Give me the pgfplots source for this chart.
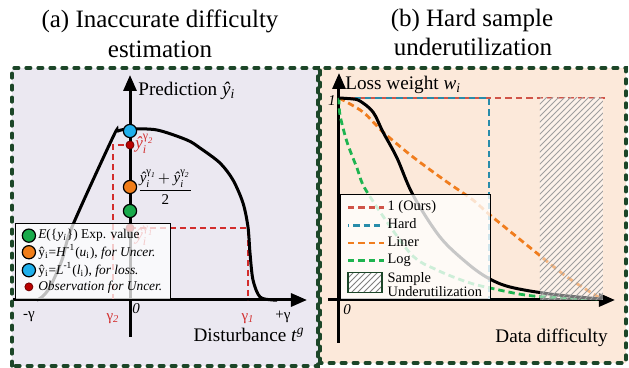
\documentclass[border=0pt]{standalone}
\usepackage{fontspec}
\setmainfont{Liberation Serif}
\usepackage{amsmath}
\usepackage{pgfplots}
\pgfplotsset{compat=1.18}
\usetikzlibrary{arrows.meta,patterns}
\definecolor{bgL}{RGB}{235,232,241}
\definecolor{bgR}{RGB}{252,233,218}
\definecolor{dkg}{RGB}{28,70,40}
\definecolor{cred}{RGB}{208,84,72}
\definecolor{cblue}{RGB}{40,140,170}
\definecolor{corange}{RGB}{240,125,30}
\definecolor{cgreen}{RGB}{30,180,80}
\definecolor{mgreen}{RGB}{25,170,75}
\definecolor{morange}{RGB}{240,125,25}
\definecolor{mblue}{RGB}{30,175,235}
\definecolor{mred}{RGB}{185,0,0}
\definecolor{lred}{RGB}{210,45,45}
\newcommand{\yh}{\text{\itshape ŷ}}
\begin{document}
\begin{tikzpicture}
\useasboundingbox (0,0) rectangle (314.5pt,184pt);
\fill[bgL] (6pt,1pt) rectangle (159pt,150pt);
\fill[bgR] (160pt,2.5pt) rectangle (313pt,150pt);
\node[font=\rmfamily\fontsize{12.5}{15}\selectfont, anchor=base] at (80pt,170pt) {(a) Inaccurate difficulty};
\node[font=\rmfamily\fontsize{12.5}{15}\selectfont, anchor=base] at (80pt,155pt) {estimation};
\node[font=\rmfamily\fontsize{12.5}{15}\selectfont, anchor=base] at (236pt,170.5pt) {(b) Hard sample};
\node[font=\rmfamily\fontsize{12.5}{15}\selectfont, anchor=base] at (236.5pt,156pt) {underutilization};
% ---------------- left axis
\begin{axis}[x=0.5pt, y=0.5pt, at={(65pt,34pt)}, anchor=origin,
  xmin=-117, xmax=177, ymin=-37, ymax=225,
  axis lines=middle, xtick=\empty, ytick=\empty, clip=false,
  axis line style={line width=1.5pt, -{Triangle[length=8pt,width=6.5pt]}},
  legend style={at={(axis cs:-115,0)}, anchor=south west, fill=white, fill opacity=0.75,
    draw opacity=1, text opacity=1, draw=black, line width=0.7pt,
    font=\fontsize{6.7}{7.4}\selectfont, row sep=-0.8pt,
    nodes={inner sep=1.1pt}},
  legend cell align=left]
\addplot[lred, line width=0.6pt, dash pattern=on 3pt off 2pt, forget plot] coordinates {(-17,0) (-17,155) (0,155)};
\addplot[lred, line width=0.6pt, dash pattern=on 3pt off 2pt, forget plot] coordinates {(0,72) (118,72) (118,0)};
\addplot[black, line width=1.5pt, smooth, tension=0.5, forget plot] coordinates {
 (-93,0) (-88,3) (-80,13) (-68,40) (-58,73) (-17,163) (-12,169) (0,171) (27,170)
 (57,160) (70,152) (90,137) (103,120) (113,97) (118,73) (120,47) (123,20) (130,3) (143,0) (147,0)};
\addplot[only marks, mark=*, mark size=2pt, mark options={fill=mred, draw=mred!60!black, line width=0.4pt}, forget plot] coordinates {(0,72) (0,155)};
\addplot[only marks, mark=*, mark size=3.3pt, mark options={fill=mgreen, draw=black, line width=0.6pt}, forget plot] coordinates {(0,89)};
\addplot[only marks, mark=*, mark size=3.3pt, mark options={fill=morange, draw=black, line width=0.6pt}, forget plot] coordinates {(0,113)};
\addplot[only marks, mark=*, mark size=3.3pt, mark options={fill=mblue, draw=black, line width=0.6pt}, forget plot] coordinates {(0,169)};
\node[anchor=west, text=lred, font=\fontsize{8.5}{9}\selectfont, inner sep=0pt] at (axis cs:5,156) {$\yh_{\text{\itshape i}}^{\text{γ}_{\text{\itshape 2}}}$};
\node[anchor=west, text=lred, font=\fontsize{8.5}{9}\selectfont, inner sep=0pt] at (axis cs:5,64) {$\yh_{\text{\itshape i}}^{\text{γ}_{\text{\itshape 1}}}$};
\node[anchor=west, font=\fontsize{7.5}{9}\selectfont, inner sep=0pt] at (axis cs:7,113) {$\dfrac{\yh_{\text{\itshape i}}^{\text{γ}_{\text{\itshape 1}}}\!+\yh_{\text{\itshape i}}^{\text{γ}_{\text{\itshape 2}}}}{\text{2}}$};
\node[anchor=base west, font=\fontsize{9.6}{11}\selectfont, inner sep=0pt] at (axis cs:8,204) {Prediction \textit{ŷ}\textsubscript{\textit{i}}};
\node[anchor=base east, font=\fontsize{9.6}{11}\selectfont, inner sep=0pt] at (axis cs:175,-42) {Disturbance \textit{t}\textsuperscript{\textit{g}}};
\node[font=\fontsize{7.5}{9}\selectfont, inner sep=0pt] at (axis cs:-101,-17) {-γ};
\node[font=\fontsize{7.5}{9}\selectfont, inner sep=0pt] at (axis cs:153,-17) {+γ};
\node[text=lred, font=\fontsize{7.5}{9}\selectfont, inner sep=0pt] at (axis cs:-17,-19) {γ\textsubscript{\textit{2}}};
\node[text=lred, font=\fontsize{7.5}{9}\selectfont, inner sep=0pt] at (axis cs:118,-19) {γ\textsubscript{\textit{1}}};
\node[anchor=north west, font=\fontsize{7.5}{9}\selectfont\itshape, inner sep=0pt] at (axis cs:2,-3) {0};
\addlegendimage{legend image code/.code={\draw[fill=mgreen, draw=black, line width=0.6pt, fill opacity=1] (3.3pt,0pt) circle (3.3pt);}}
\addlegendentry{\textit{E}(\{\textit{y}\textsubscript{\textit{i}}\}) Exp. value}
\addlegendimage{legend image code/.code={\draw[fill=morange, draw=black, line width=0.6pt, fill opacity=1] (3.3pt,0pt) circle (3.3pt);}}
\addlegendentry{ŷ\textsubscript{i}=\textit{H}\textsuperscript{-1}(\textit{u}\textsubscript{i}), \textit{for Uncer.}}
\addlegendimage{legend image code/.code={\draw[fill=mblue, draw=black, line width=0.6pt, fill opacity=1] (3.3pt,0pt) circle (3.3pt);}}
\addlegendentry{ŷ\textsubscript{i}=\textit{L}\textsuperscript{-1}(\textit{l}\textsubscript{i}), \textit{for loss.}}
\addlegendimage{legend image code/.code={\draw[fill=mred, draw=mred!60!black, line width=0.4pt, fill opacity=1] (3.3pt,0pt) circle (2pt);}}
\addlegendentry{\textit{Observation for Uncer.}}
\end{axis}
% ---------------- right axis
\begin{axis}[x=0.5pt, y=0.5pt, at={(169.5pt,34pt)}, anchor=origin,
  xmin=-11, xmax=276, ymin=-43, ymax=227,
  axis lines=middle, xtick=\empty, ytick=\empty, clip=false,
  axis line style={line width=1.5pt, -{Triangle[length=8pt,width=6.5pt]}},
  legend style={at={(axis cs:1,0)}, anchor=south west, fill=white, fill opacity=0.78,
    draw opacity=1, text opacity=1, draw=black, line width=0.7pt,
    font=\fontsize{7.2}{7.8}\selectfont, row sep=0.3pt,
    nodes={inner sep=1.1pt}},
  legend cell align=left,
  legend image code/.code={\draw[#1] (0pt,0pt) -- (18pt,0pt);},
  dl/.style={line width=1.4pt, line cap=butt, dash pattern=on 3.2pt off 2pt}]
\addplot[cred, dl] coordinates {(0,202) (266,202)};
\addlegendentry{1 (Ours)}
\addplot[cblue, dl, dash phase=2.6pt] coordinates {(0,202) (150,202) (150,0)};
\addlegendentry{Hard}
\addplot[corange, dl, smooth, tension=0.5] coordinates {
 (0,202) (24,188) (44,168) (74,143) (108,118) (134,100) (151,85) (194,50) (228,23) (261,2)};
\addlegendentry{Liner}
\addplot[cgreen, dl, smooth, tension=0.5] coordinates {
 (0,202) (1,185) (8,158) (18,132) (28,108) (71,47) (98,30) (128,18) (151,12) (194,4) (261,1)};
\addlegendentry{Log}
\addplot[black, line width=1.5pt, smooth, tension=0.55, forget plot] coordinates {
 (0,202) (14,201) (21,199) (34,188) (44,168) (58,142) (74,105) (101,63) (128,37)
 (149,22) (171,13) (211,6) (261,1)};
\addplot[draw=none, fill=white, fill opacity=0.45, forget plot] coordinates {(201,0) (264,0) (264,202) (201,202)};
\addplot[draw=none, pattern=north east lines, pattern color=gray!75, forget plot] coordinates {(201,0) (264,0) (264,202) (201,202)};
\addlegendimage{legend image code/.code={\fill[white, fill opacity=1] (0pt,-5pt) rectangle (17pt,5pt);
  \draw[dkg, line width=0.6pt, pattern=north east lines, pattern color=gray, draw opacity=1] (0pt,-5pt) rectangle (17pt,5pt);}}
\addlegendentry{\renewcommand{\arraystretch}{0.95}\begin{tabular}{@{}l@{}}Sample\\Underutilization\end{tabular}}
\node[anchor=east, font=\fontsize{7.5}{9}\selectfont\itshape, inner sep=0pt] at (axis cs:-3,199) {1};
\node[anchor=north west, font=\fontsize{7.5}{9}\selectfont\itshape, inner sep=0pt] at (axis cs:4,-4) {0};
\node[anchor=base west, font=\fontsize{9.6}{11}\selectfont, inner sep=0pt] at (axis cs:6,210) {Loss weight \textit{w}\textsubscript{\textit{i}}};
\node[anchor=base east, font=\fontsize{9.6}{11}\selectfont, inner sep=0pt] at (axis cs:269,-43) {Data difficulty};
\end{axis}
\tikzset{bord/.style={dkg, line width=1.6pt, line cap=round, dash pattern=on 2.4pt off 3.6pt}}
\draw[bord] (6pt,1pt) rectangle (159pt,150pt);
\draw[bord] (160pt,2.5pt) rectangle (313pt,150pt);
\end{tikzpicture}
\end{document}
